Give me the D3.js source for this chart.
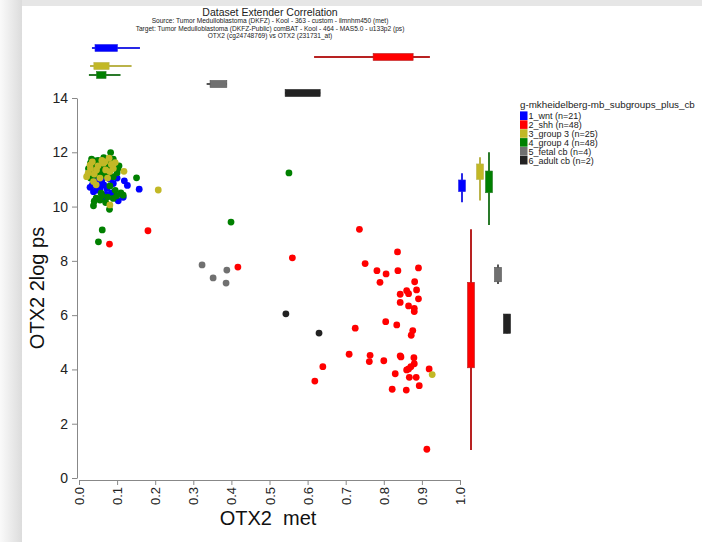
<!DOCTYPE html>
<html>
<head>
<meta charset="utf-8">
<script src="https://cdn.jsdelivr.net/npm/d3@7"></script>
<style>
  body { margin: 0; background: #fff; }
  svg { display: block; font-family: "Liberation Sans", Arial, sans-serif; }
</style>
</head>
<body>
<svg id="chart" width="702" height="542"></svg>
<script>
// groups, legend counts, colours
var groups = ["1_wnt", "2_shh", "3_group 3", "4_group 4", "5_fetal cb", "6_adult cb"];
var counts = [21, 48, 25, 48, 4, 2];
var colors = ["#0000ff", "#ff0000", "#c2b826", "#008000", "#707070", "#222222"];
var whiskerColors = ["#2828e6", "#b82222", "#bab34a", "#2a7a2a", "#555555", "#222222"];

// scatter points [met, 2log ps]
var wnt = [[0.119,10.95],[0.127,10.78],[0.158,10.64],[0.103,10.21],[0.116,10.34],[0.066,10.27],[0.073,10.67],
	[0.081,11.01],[0.029,10.71],[0.038,10.55],[0.046,10.61],[0.060,10.98],[0.051,10.86],[0.055,10.67],
	[0.040,11.00],[0.065,10.80],[0.090,10.85],[0.070,10.45],[0.035,10.80],[0.085,10.50],[0.100,11.05]];
var shh = [[0.736,9.16],[0.560,8.11],[0.836,8.33],[0.751,7.90],[0.782,7.64],[0.806,7.52],[0.837,7.64],
	[0.891,7.74],[0.790,7.21],[0.881,7.23],[0.886,6.93],[0.843,6.77],[0.865,6.79],[0.891,6.60],[0.843,6.47],
	[0.865,6.34],[0.880,6.25],[0.880,6.13],[0.417,7.77],[0.181,9.11],[0.080,8.62],
	[0.805,5.76],[0.834,5.64],[0.876,5.43],[0.872,5.26],[0.725,5.52],[0.709,4.56],[0.764,4.52],[0.762,4.29],
	[0.800,4.32],[0.843,4.50],[0.845,4.46],[0.879,4.43],[0.880,4.21],[0.871,4.10],[0.860,3.98],[0.865,4.02],
	[0.919,4.02],[0.830,3.84],[0.867,3.71],[0.885,3.71],[0.640,4.10],[0.619,3.57],[0.822,3.27],[0.859,3.24],
	[0.893,3.40],[0.913,1.06],[0.860,6.90]];
var group3 = [[0.079,11.78],[0.095,11.62],[0.118,11.30],[0.208,10.61],[0.081,10.06],[0.064,11.60],[0.068,11.65],
	[0.029,11.53],[0.024,11.23],[0.046,11.35],[0.081,11.29],[0.038,10.92],[0.927,3.81],
	[0.030,11.40],[0.040,11.20],[0.050,11.50],[0.055,11.05],[0.060,11.70],[0.070,11.35],[0.075,11.05],
	[0.085,11.55],[0.020,11.10],[0.035,11.65],[0.090,11.40],[0.045,10.80]];
var group4 = [[0.083,11.99],[0.033,11.75],[0.042,11.68],[0.151,11.06],[0.102,11.39],[0.038,10.03],[0.061,9.14],
	[0.051,8.70],[0.080,9.90],[0.081,10.76],[0.099,10.40],[0.116,10.42],[0.058,10.49],[0.045,10.31],[0.055,10.24],
	[0.064,11.16],[0.055,11.53],[0.029,11.23],[0.551,11.24],[0.399,9.43],
	[0.030,11.60],[0.040,11.45],[0.050,11.70],[0.060,11.40],[0.070,11.55],[0.035,11.30],[0.045,11.15],
	[0.065,11.25],[0.075,11.20],[0.085,11.45],[0.090,11.10],[0.055,11.35],[0.040,10.20],[0.070,10.15],
	[0.090,11.75],[0.095,10.60],[0.060,10.40],[0.075,10.35],[0.050,11.25],[0.025,11.40],[0.080,11.65],
	[0.065,11.80],[0.045,11.55],[0.100,11.25],[0.110,10.50],[0.030,11.05],[0.090,10.30],[0.105,11.50]];
var fetal = [[0.323,7.85],[0.352,7.37],[0.388,7.66],[0.386,7.18]];
var adult = [[0.543,6.05],[0.630,5.34]];
var points = [wnt, shh, group3, group4, fetal, adult];
var drawOrder = [1, 4, 5, 0, 3, 2];

// box stats [whisker lo, q1, q3, whisker hi]
var xBox = [[0.034,0.042,0.101,0.160],[0.617,0.772,0.877,0.921],[0.029,0.039,0.079,0.138],
	[0.026,0.046,0.071,0.109],[0.335,0.344,0.388,0.388],[0.541,0.541,0.633,0.633]];
var yBox = [[10.16,10.55,10.98,11.23],[1.03,4.06,7.21,9.16],[10.22,11.00,11.57,11.82],
	[9.32,10.51,11.31,12.00],[7.15,7.23,7.76,7.87],[5.33,5.33,6.04,6.04]];

var xTicks = d3.range(0, 1.01, 0.1);
var yTicks = [0, 2, 4, 6, 8, 10, 12, 14];

var titleLines = [
	"Source: Tumor Medulloblastoma (DKFZ) - Kool - 363 - custom - ilmnhm450 (met)",
	"Target: Tumor Medulloblastoma (DKFZ-Public) comBAT - Kool - 464 - MAS5.0 - u133p2 (ps)",
	"OTX2 (cg24748769) vs OTX2 (231731_at)"
];

var svg = d3.select("#chart");

// grey frame from the screenshot
var grad = svg.append("defs").append("linearGradient").attr("id", "lgrad");
grad.append("stop").attr("offset", "0").attr("stop-color", "#fafafa");
grad.append("stop").attr("offset", "1").attr("stop-color", "#dcdcdc");
svg.append("rect").attr("width", 702).attr("height", 6).attr("fill", "#e6e6e6");
svg.append("rect").attr("width", 22).attr("height", 542).attr("fill", "url(#lgrad)");

var x = d3.scaleLinear().domain([0, 1]).range([79, 460]);
var y = d3.scaleLinear().domain([0, 14]).range([478, 98]);
var rowY = d3.scalePoint().domain(groups).range([48, 93]);
var colX = d3.scalePoint().domain(groups).range([462, 507]);

// title
svg.append("text").attr("x", 270).attr("y", 16).attr("text-anchor", "middle")
	.attr("font-size", 10.5).attr("fill", "#222").text("Dataset Extender Correlation");
svg.selectAll(".sub").data(titleLines).enter().append("text")
	.attr("x", 270).attr("y", function (d, i) { return 23.2 + i * 7.4; })
	.attr("text-anchor", "middle").attr("font-size", 6.6).attr("fill", "#222")
	.text(function (d) { return d; });

// axes
var yAxis = svg.append("g").attr("transform", "translate(77,0)")
	.call(d3.axisLeft(y).tickValues(yTicks).tickSize(5).tickSizeOuter(0));
yAxis.selectAll("text").attr("font-size", 14).attr("fill", "#222").attr("dx", "-1");

var xAxis = svg.append("g").attr("transform", "translate(0,480)")
	.call(d3.axisBottom(x).tickValues(xTicks).tickFormat(d3.format(".1f")).tickSize(5).tickSizeOuter(0));
xAxis.selectAll("text").attr("font-size", 13).attr("fill", "#222")
	.attr("transform", "rotate(-90)").attr("text-anchor", "end")
	.attr("x", -7).attr("y", 0).attr("dy", "0.35em");
svg.selectAll(".domain, .tick line").attr("stroke", "#888");

svg.append("text").attr("x", 268).attr("y", 525).attr("text-anchor", "middle")
	.attr("font-size", 20).attr("fill", "#111").style("white-space", "pre").text("OTX2  met");
svg.append("text").attr("transform", "translate(44,288) rotate(-90)").attr("text-anchor", "middle")
	.attr("font-size", 20).attr("fill", "#111").text("OTX2 2log ps");

// scatter
drawOrder.forEach(function (gi) {
	svg.append("g").selectAll("circle").data(points[gi]).enter().append("circle")
		.attr("cx", function (d) { return x(d[0]); })
		.attr("cy", function (d) { return y(d[1]); })
		.attr("r", 3.4)
		.attr("fill", colors[gi]);
});

// top boxplots (met distribution)
var topBoxes = svg.append("g");
groups.forEach(function (g, i) {
	var b = xBox[i], cy = rowY(g);
	topBoxes.append("line").attr("x1", x(b[0])).attr("x2", x(b[3])).attr("y1", cy).attr("y2", cy)
		.attr("stroke", whiskerColors[i]).attr("stroke-width", 2);
	topBoxes.append("rect").attr("x", x(b[1])).attr("y", cy - 3.5)
		.attr("width", x(b[2]) - x(b[1])).attr("height", 7)
		.attr("fill", colors[i]).attr("stroke", whiskerColors[i]).attr("stroke-width", 0.6);
});

// right boxplots (ps distribution)
var sideBoxes = svg.append("g");
groups.forEach(function (g, i) {
	var b = yBox[i], cx = colX(g);
	sideBoxes.append("line").attr("x1", cx).attr("x2", cx).attr("y1", y(b[0])).attr("y2", y(b[3]))
		.attr("stroke", whiskerColors[i]).attr("stroke-width", 2);
	sideBoxes.append("rect").attr("x", cx - 3.5).attr("y", y(b[2]))
		.attr("width", 7).attr("height", y(b[1]) - y(b[2]))
		.attr("fill", colors[i]).attr("stroke", whiskerColors[i]).attr("stroke-width", 0.6);
});

// legend
var legend = svg.append("g").attr("transform", "translate(520,0)");
legend.append("text").attr("x", 0).attr("y", 108).attr("font-size", 9.8).attr("fill", "#222")
	.text("g-mkheidelberg-mb_subgroups_plus_cb");
var items = legend.selectAll(".item").data(groups).enter().append("g")
	.attr("transform", function (d, i) { return "translate(0," + (115.7 + i * 8.9) + ")"; });
items.append("rect").attr("x", 0).attr("y", -4.3).attr("width", 7.5).attr("height", 8.6)
	.attr("fill", function (d, i) { return colors[i]; });
items.append("text").attr("x", 8.5).attr("y", 3.3).attr("font-size", 9).attr("fill", "#222")
	.text(function (d, i) { return d + " (n=" + counts[i] + ")"; });
</script>
</body>
</html>
